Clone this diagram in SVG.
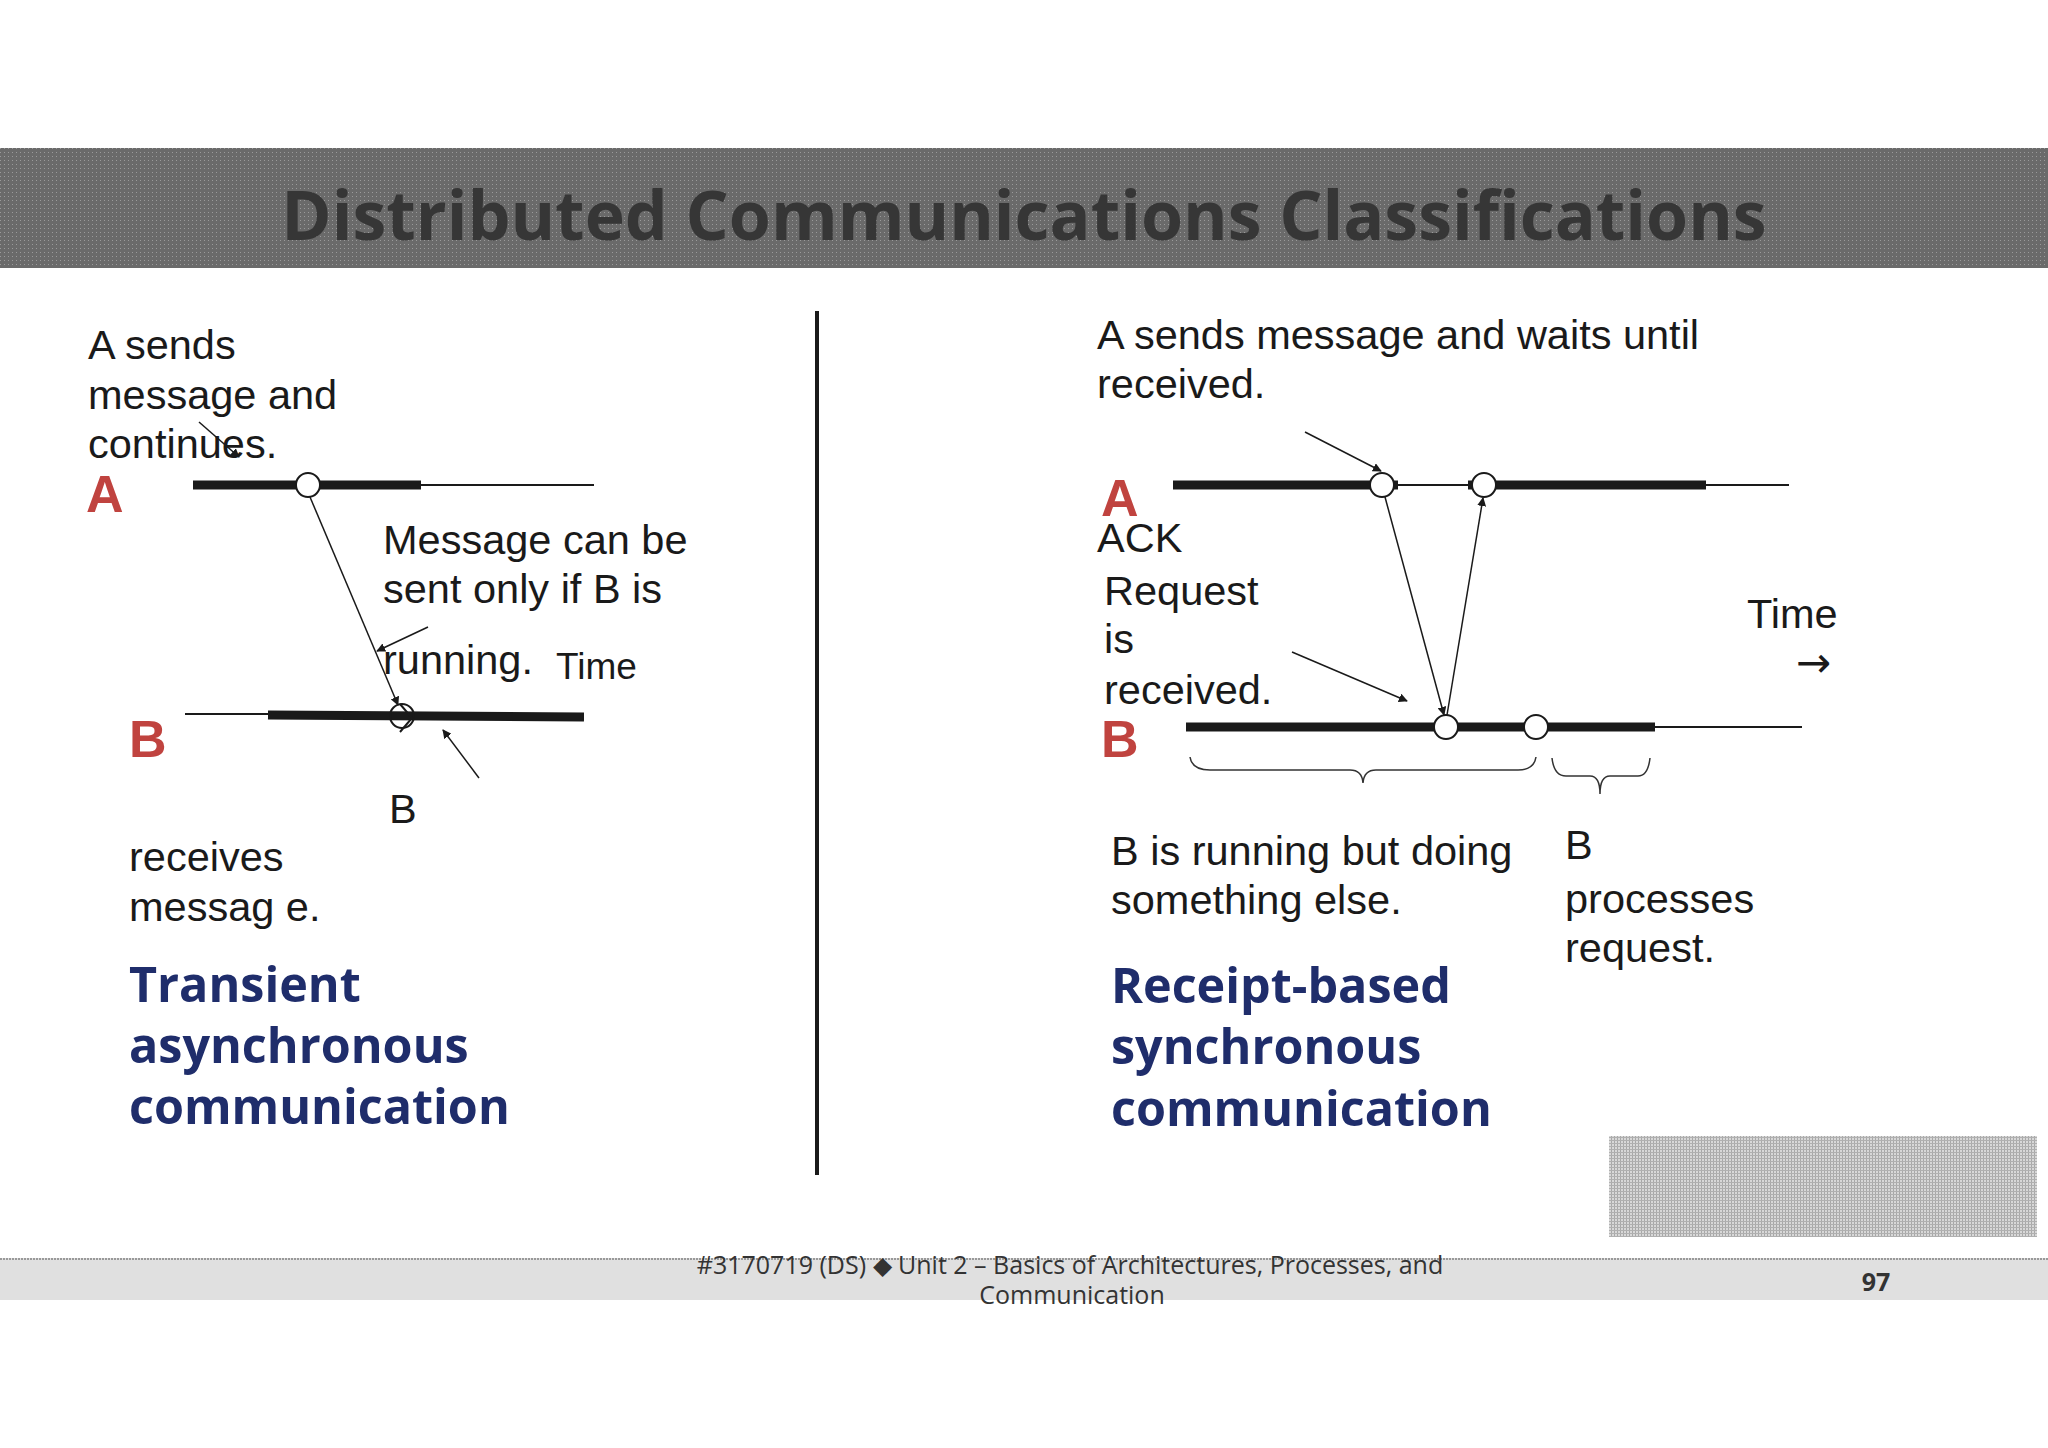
<svg xmlns="http://www.w3.org/2000/svg" width="2048" height="1448" viewBox="0 0 2048 1448">
<style>
.t{font-family:"Liberation Sans",Arial,sans-serif;font-size:41.5px;fill:#1a1a1a}
.s{font-family:"Liberation Sans",Arial,sans-serif;font-size:37px;fill:#1a1a1a}
.red{font-family:"Liberation Sans",Arial,sans-serif;font-size:52px;font-weight:bold;fill:#c0433f}
.h{font-family:"Open Sans","Liberation Sans",sans-serif;font-size:48.5px;font-weight:bold;fill:#1f2d6b}
.f{font-family:"Open Sans","Liberation Sans",sans-serif;font-size:25px;fill:#333}
.thick{stroke:#1a1a1a;stroke-width:9}
.thin{stroke:#1a1a1a;stroke-width:2}
.arr{stroke:#1a1a1a;stroke-width:1.5;fill:none;marker-end:url(#ah)}
.c{fill:#fff;stroke:#1a1a1a;stroke-width:2}
</style>
<defs>
<marker id="ah" viewBox="0 0 10 10" refX="9" refY="5" markerWidth="9" markerHeight="9" orient="auto" markerUnits="userSpaceOnUse"><path d="M0,0 L10,5 L0,10 z" fill="#1a1a1a"/></marker>
<pattern id="dots" width="4" height="4" patternUnits="userSpaceOnUse"><rect width="4" height="4" fill="#6a6a6a"/><rect width="1" height="1" fill="#9a9a9a"/></pattern>
<pattern id="dots2" width="3" height="3" patternUnits="userSpaceOnUse"><rect width="3" height="3" fill="#d8d8d8"/><rect width="1" height="3" fill="#a8a8a8"/><rect width="3" height="1" fill="#b0b0b0"/></pattern>
</defs>
<rect width="2048" height="1448" fill="#fff"/>
<g id="title"><rect x="0" y="148" width="2048" height="120" fill="url(#dots)"/>
<text x="1024" y="240" text-anchor="middle" font-family="'Open Sans','Liberation Sans',sans-serif" font-size="68" font-weight="bold" fill="#363636">Distributed Communications Classifications</text></g>
<line x1="817" y1="311" x2="817" y2="1175" stroke="#1a1a1a" stroke-width="4"/>

<g id="left">
<text class="t" x="88" y="359">A sends</text>
<text class="t" x="88" y="409">message and</text>
<text class="t" x="88" y="458">continues.</text>
<text class="red" x="86" y="512">A</text>
<text class="red" x="129" y="757">B</text>
<text class="t" x="383" y="554">Message can be</text>
<text class="t" x="383" y="603">sent only if B is</text>
<text class="t" x="383" y="674">running.</text>
<text class="s" x="556" y="679">Time</text>
<text class="t" x="389" y="823">B</text>
<text class="t" x="129" y="871">receives</text>
<text class="t" x="129" y="921">messag e.</text>
<text class="h" x="129" y="1002">Transient</text>
<text class="h" x="129" y="1063">asynchronous</text>
<text class="h" x="129" y="1124">communication</text>
</g>
<g id="left-lines">
<line class="thick" x1="193" y1="485" x2="421" y2="485"/>
<line class="thin" x1="421" y1="485" x2="594" y2="485"/>
<line class="thin" x1="185" y1="714" x2="268" y2="714"/>
<line class="thick" x1="268" y1="715" x2="584" y2="717"/>
<circle class="c" cx="308" cy="485" r="12"/>
<circle cx="402" cy="716" r="12" fill="none" stroke="#1a1a1a" stroke-width="2"/>
<path d="M400,704 L412,718 L400,732" fill="none" stroke="#1a1a1a" stroke-width="2"/>
</g>
<g id="connectors">
<line class="arr" x1="310" y1="497" x2="398" y2="705"/>
<line class="arr" x1="428" y1="627" x2="377" y2="651"/>
<line class="arr" x1="479" y1="778" x2="443" y2="730"/>
<line class="arr" x1="199" y1="422" x2="239" y2="457"/>
<line class="arr" x1="1385" y1="497" x2="1444" y2="715"/>
<line class="arr" x1="1447" y1="715" x2="1483" y2="498"/>
<line class="arr" x1="1305" y1="432" x2="1381" y2="471"/>
<line class="arr" x1="1292" y1="652" x2="1407" y2="701"/>
</g>

<g id="right">
<text class="t" x="1097" y="349">A sends message and waits until</text>
<text class="t" x="1097" y="398">received.</text>
<text class="red" x="1101" y="516">A</text>
<text class="t" x="1097" y="552">ACK</text>
<text class="t" x="1104" y="605">Request</text>
<text class="t" x="1104" y="653">is</text>
<text class="t" x="1104" y="704">received.</text>
<text class="red" x="1101" y="757">B</text>
<text class="t" x="1747" y="628">Time</text>
<text x="1796" y="677" font-family="'DejaVu Sans',sans-serif" font-size="42" fill="#1a1a1a">→</text>
<text class="t" x="1111" y="865">B is running but doing</text>
<text class="t" x="1111" y="914">something else.</text>
<text class="t" x="1565" y="859">B</text>
<text class="t" x="1565" y="913">processes</text>
<text class="t" x="1565" y="962">request.</text>
<text class="h" x="1111" y="1003">Receipt-based</text>
<text class="h" x="1111" y="1064">synchronous</text>
<text class="h" x="1111" y="1126">communication</text>
</g>
<g id="right-lines">
<line class="thick" x1="1173" y1="485" x2="1380" y2="485"/>
<line class="thin" x1="1380" y1="485" x2="1484" y2="485"/>
<line class="thick" x1="1388" y1="485" x2="1398" y2="485"/>
<line class="thick" x1="1468" y1="485" x2="1478" y2="485"/>
<line class="thick" x1="1484" y1="485" x2="1706" y2="485"/>
<line class="thin" x1="1706" y1="485" x2="1789" y2="485"/>
<line class="thick" x1="1186" y1="727" x2="1655" y2="727"/>
<line class="thin" x1="1655" y1="727" x2="1802" y2="727"/>
<circle class="c" cx="1382" cy="485" r="12"/>
<circle class="c" cx="1484" cy="485" r="12"/>
<circle class="c" cx="1446" cy="727" r="12"/>
<circle class="c" cx="1536" cy="727" r="12"/>
<path d="M1190,757 Q1192,770 1210,770 L1350,770 Q1362,770 1363,783 Q1364,770 1376,770 L1518,770 Q1534,770 1536,757" fill="none" stroke="#333" stroke-width="1.5"/>
<path d="M1552,758 Q1554,776 1566,776 L1590,776 Q1600,776 1600,794 Q1600,776 1610,776 L1638,776 Q1648,776 1650,758" fill="none" stroke="#333" stroke-width="1.5"/>
</g>

<g id="footer">
<rect x="1609" y="1136" width="428" height="101" fill="url(#dots2)"/>
<rect x="0" y="1258" width="2048" height="42" fill="#e0e0e0"/>
<line x1="0" y1="1259" x2="2048" y2="1259" stroke="#999" stroke-width="2" stroke-dasharray="2,1"/>
<text class="f" x="1070" y="1274" text-anchor="middle">#3170719 (DS)   ◆   Unit 2 – Basics of Architectures, Processes, and</text>
<text class="f" x="1072" y="1304" text-anchor="middle">Communication</text>
<text class="f" x="1876" y="1291" text-anchor="middle" font-weight="bold">97</text>
</g>
</svg>
